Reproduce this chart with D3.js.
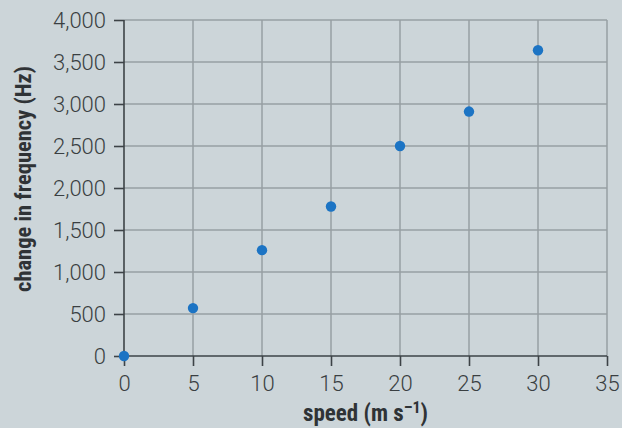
<!DOCTYPE html>
<html><head><meta charset="utf-8">
<script src="https://cdn.jsdelivr.net/npm/d3@7"></script>
<style>
html,body{margin:0;padding:0;background:#ccd5d9;}
svg{display:block;}
</style></head><body>
<script>
const speeds = [0, 5, 10, 15, 20, 25, 30];
const freqChanges = [0, 570, 1260, 1780, 2500, 2910, 3640];
const xTicks = [0, 5, 10, 15, 20, 25, 30, 35];
const yTicks = [0, 500, 1000, 1500, 2000, 2500, 3000, 3500, 4000];

const W = 622, H = 428;
const m = {left:124, right:15, top:20, bottom:72};
const svg = d3.select("body").append("svg").attr("width", W).attr("height", H);
svg.append("rect").attr("width", W).attr("height", H).attr("fill", "#ccd5d9");

const x = d3.scaleLinear().domain([0, 35]).range([m.left, W - m.right]);
const y = d3.scaleLinear().domain([0, 4000]).range([H - m.bottom, m.top]);

const labelFont = "Roboto, 'Liberation Sans', sans-serif";
const titleFont = "'Liberation Sans Narrow', 'Roboto Condensed', 'DejaVu Sans Condensed', sans-serif";

// grid
svg.append("g").selectAll("line").data(yTicks.filter(d => d > 0)).join("line")
  .attr("x1", x(0)).attr("x2", x(35)).attr("y1", d => y(d)).attr("y2", d => y(d))
  .attr("stroke", "#979fa3").attr("stroke-width", 1.5);
svg.append("g").selectAll("line").data(xTicks.filter(d => d > 0)).join("line")
  .attr("x1", d => x(d)).attr("x2", d => x(d)).attr("y1", y(0)).attr("y2", y(4000))
  .attr("stroke", "#979fa3").attr("stroke-width", 1.5);

// axes
const xAxis = svg.append("g").attr("transform", `translate(0,${y(0)})`)
  .call(d3.axisBottom(x).tickValues(xTicks).tickSize(10).tickPadding(9).tickFormat(d3.format("d")));
const yAxis = svg.append("g").attr("transform", `translate(${x(0)},0)`)
  .call(d3.axisLeft(y).tickValues(yTicks).tickSize(10).tickPadding(8).tickFormat(d3.format(",")));
[xAxis, yAxis].forEach(g => {
  g.select(".domain").attr("stroke", "#3d4347").attr("stroke-width", 1.6);
  g.selectAll(".tick line").attr("stroke", "#3d4347").attr("stroke-width", 1.6);
  g.selectAll(".tick text").attr("fill", "#3a3f42").style("font-family", labelFont)
    .style("font-weight", 300).style("font-size", "22px");
});
xAxis.select(".domain").attr("d", `M${x(0)},0H${x(35)}`);
yAxis.select(".domain").attr("d", `M0,${y(0)}V${y(4000)}`);
yAxis.selectAll(".tick text").attr("dy", "0.36em");

// points
svg.append("g").selectAll("circle").data(speeds.map((s, i) => [s, freqChanges[i]])).join("circle")
  .attr("cx", d => x(d[0])).attr("cy", d => y(d[1])).attr("r", 5.2)
  .attr("fill", "#1c74c4");

// titles
const xt = svg.append("text").attr("x", (x(0) + x(35)) / 2).attr("y", 421)
  .attr("text-anchor", "middle").attr("fill", "#2f3336")
  .style("font-family", titleFont).style("font-weight", "bold").style("font-size", "23px");
xt.append("tspan").text("speed (m s");
xt.append("tspan").attr("dy", "-8").style("font-size", "16px").text("–1");
xt.append("tspan").attr("dy", "8").text(")");

svg.append("text").attr("transform", `translate(31,${179}) rotate(-90)`)
  .attr("text-anchor", "middle").attr("fill", "#2f3336")
  .style("font-family", titleFont).style("font-weight", "bold").style("font-size", "22.5px")
  .text("change in frequency (Hz)");
</script>
</body></html>
